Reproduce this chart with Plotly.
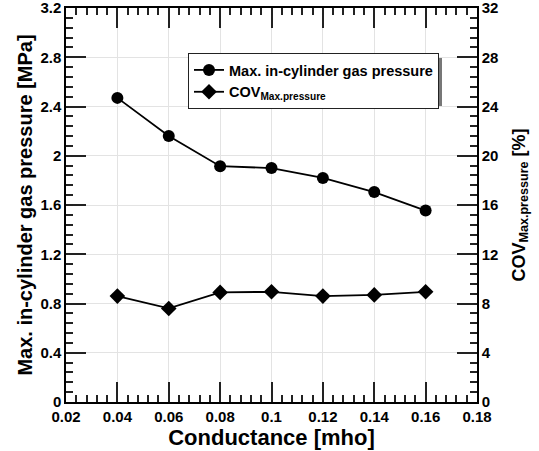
import plotly.graph_objects as go

# Conductance sweep and measured results
conductance = [0.04, 0.06, 0.08, 0.10, 0.12, 0.14, 0.16]
max_pressure_mpa = [2.47, 2.16, 1.915, 1.90, 1.82, 1.705, 1.555]
cov_max_pressure_pct = [8.6, 7.6, 8.9, 8.95, 8.6, 8.7, 8.95]

x_ticks = [0.02, 0.04, 0.06, 0.08, 0.10, 0.12, 0.14, 0.16, 0.18]
x_tick_text = ["0.02", "0.04", "0.06", "0.08", "0.1", "0.12", "0.14", "0.16", "0.18"]
y_ticks = [0, 0.4, 0.8, 1.2, 1.6, 2.0, 2.4, 2.8, 3.2]
y_tick_text = ["0", "0.4", "0.8", "1.2", "1.6", "2", "2.4", "2.8", "3.2"]
y2_ticks = [0, 4, 8, 12, 16, 20, 24, 28, 32]
y2_tick_text = ["0", "4", "8", "12", "16", "20", "24", "28", "32"]

FONT = "Liberation Sans, Arial, sans-serif"
W, H = 539, 451
ML, MR, MT, MB = 66, 62, 8, 49
PW, PH = W - ML - MR, H - MT - MB

fig = go.Figure()
fig.add_trace(go.Scatter(
    x=conductance, y=max_pressure_mpa, name="Max. in-cylinder gas pressure",
    mode="lines+markers", line=dict(color="black", width=1.8),
    marker=dict(symbol="circle", size=12, color="black"),
))
fig.add_trace(go.Scatter(
    x=conductance, y=cov_max_pressure_pct, name="COV<sub>Max.pressure</sub>",
    mode="lines+markers", yaxis="y2", line=dict(color="black", width=1.8),
    marker=dict(symbol="diamond", size=12, color="black"),
))

tickfont = dict(family=FONT, size=15, color="black", weight="bold")

common = dict(
    showline=True, linecolor="black", linewidth=1.5,
    ticks="inside", ticklen=20, tickwidth=1.5, tickcolor="#222",
    showgrid=True, gridcolor="#e3e3e3", gridwidth=1, zeroline=False,
    tickfont=tickfont, automargin=False, ticklabeloverflow="allow",
)

def minor(step):
    return dict(dtick=step, tick0=0, ticks="inside", ticklen=7,
                tickwidth=1.5, tickcolor="#222", showgrid=False)

fig.update_layout(
    template="none",
    width=W, height=H,
    margin=dict(l=ML, r=MR, t=MT, b=MB),
    paper_bgcolor="white", plot_bgcolor="white",
    showlegend=True,
    legend=dict(
        x=(188 - ML) / PW, y=(H - MB - 53) / PH, xanchor="left", yanchor="top",
        bgcolor="white", bordercolor="#222", borderwidth=1,
        font=dict(family=FONT, size=14.5, color="black", weight="bold"),
        tracegroupgap=0,
    ),
    xaxis=dict(
        range=[0.02, 0.18], tickvals=x_ticks, ticktext=x_tick_text,
        mirror="ticks", minor=minor(0.004),
        title=dict(text="Conductance [mho]",
                   font=dict(family=FONT, size=22, color="black", weight="bold"), standoff=4),
        **common,
    ),
    yaxis=dict(
        range=[0, 3.2], tickvals=y_ticks, ticktext=y_tick_text,
        minor=minor(0.08),
        title=dict(text="Max. in-cylinder gas pressure [MPa]",
                   font=dict(family=FONT, size=20, color="black", weight="bold"), standoff=2),
        **common,
    ),
    yaxis2=dict(
        overlaying="y", side="right",
        range=[0, 32], tickvals=y2_ticks, ticktext=y2_tick_text,
        minor=minor(0.8),
        title=dict(text="COV<sub>Max.pressure</sub> [%]",
                   font=dict(family=FONT, size=18, color="black", weight="bold"), standoff=14),
        **{**common, "showgrid": False},
    ),
)

# drop shadow behind the legend box
fig.add_shape(
    type="rect", xref="paper", yref="paper", layer="below",
    x0=(192 - ML) / PW, x1=(442 - ML) / PW,
    y0=(H - MB - 107) / PH, y1=(H - MB - 57) / PH,
    fillcolor="#777", line=dict(width=0),
)

fig.write_html("out.html")
